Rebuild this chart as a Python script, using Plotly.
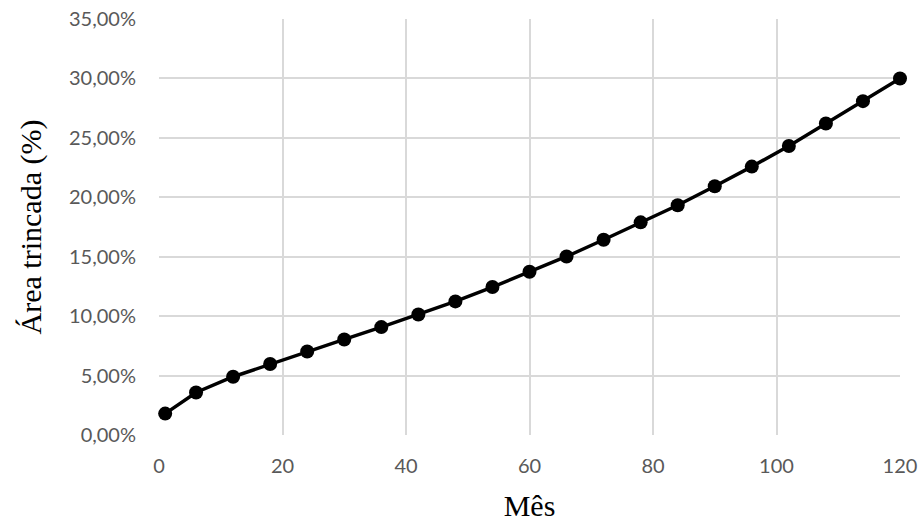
import plotly.graph_objects as go

meses = [1, 6, 12, 18, 24, 30, 36, 42, 48, 54, 60, 66, 72, 78, 84, 90, 96, 102, 108, 114, 120]
area_trincada = [0.0180, 0.0358, 0.0490, 0.0597, 0.0702, 0.0804, 0.0908, 0.1014, 0.1124, 0.1245,
                 0.1374, 0.1502, 0.1643, 0.1789, 0.1933, 0.2093, 0.2258, 0.2432, 0.2621, 0.2809, 0.3000]

x_ticks = [0, 20, 40, 60, 80, 100, 120]
y_ticks = [0, 0.05, 0.10, 0.15, 0.20, 0.25, 0.30, 0.35]

fig = go.Figure()
fig.add_trace(go.Scatter(
    x=meses, y=area_trincada, mode="lines+markers",
    line=dict(color="black", width=3.5),
    marker=dict(color="black", size=14),
    showlegend=False, cliponaxis=False,
))

tick_font = dict(family="Lato, Open Sans, sans-serif", size=20, color="#595959")
title_font = dict(family="Liberation Serif, Times New Roman, serif", size=30, color="black")

fig.update_layout(
    width=920, height=525,
    margin=dict(l=159, r=20, t=19, b=90),
    paper_bgcolor="white", plot_bgcolor="white",
    separators=",.",
    xaxis=dict(
        range=[0, 120], tickvals=x_ticks, showgrid=True, gridcolor="#d9d9d9", gridwidth=1.5,
        zeroline=False, showline=False, tickfont=tick_font, ticklabelstandoff=17,
        automargin=False, ticklabeloverflow="allow",
        title=dict(text="Mês", font=title_font, standoff=18),
    ),
    yaxis=dict(
        range=[0, 0.35], tickvals=y_ticks, tickformat=".2%", showgrid=True, gridcolor="#d9d9d9",
        gridwidth=1.5, zeroline=False, showline=False, tickfont=tick_font, ticklabelstandoff=22,
        automargin=False, ticklabeloverflow="allow",
        title=dict(text="Área trincada (%)", font=title_font, standoff=18),
    ),
)

fig.write_html(
    "out.html",
    config={"displayModeBar": False},
    post_script="document.body.style.margin='0';document.documentElement.style.overflow='hidden';document.body.style.overflow='hidden';",
)
